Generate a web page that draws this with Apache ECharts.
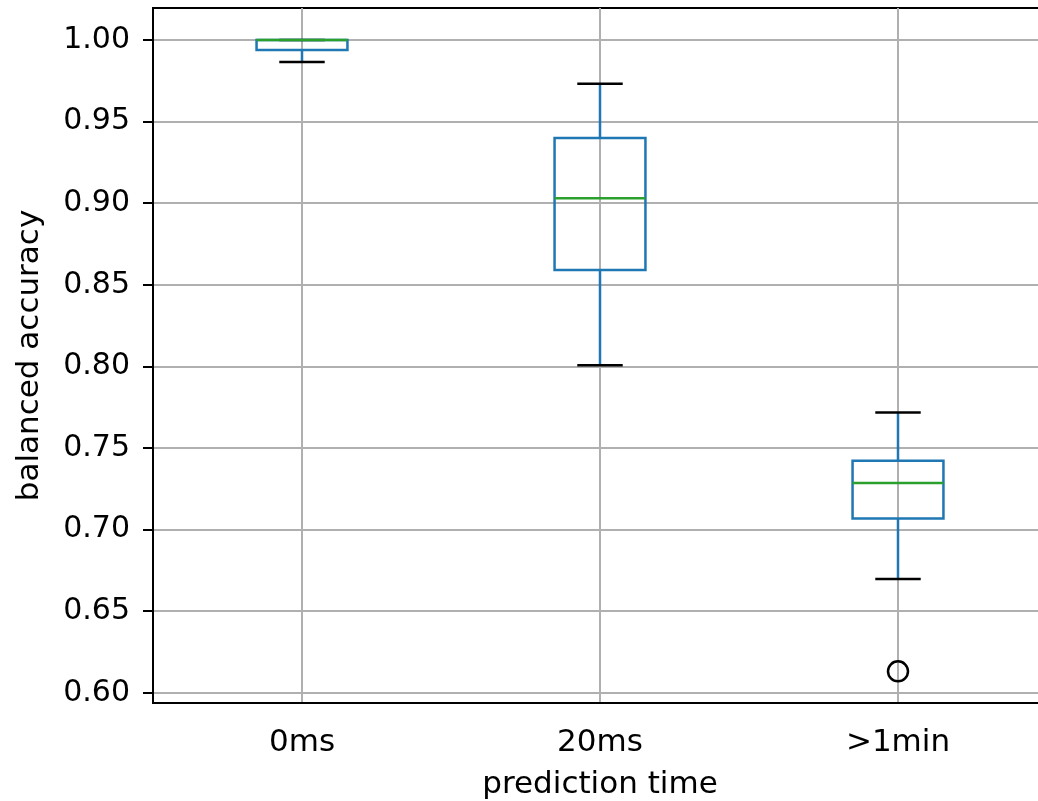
<!DOCTYPE html>
<html>
<head>
<meta charset="utf-8">
<script src="https://cdn.jsdelivr.net/npm/echarts@6/dist/echarts.min.js"></script>
<style>
  html, body { margin: 0; padding: 0; background: #fff; }
  #chart { width: 1038px; height: 801px; }
</style>
</head>
<body>
<div id="chart"></div>
<script>
// box statistics
var categories = ['0ms', '20ms', '>1min'];
var whiskerLow = [0.9865, 0.8006, 0.6697];
var q1 = [0.9939, 0.8590, 0.7068];
var median = [1.0000, 0.9030, 0.7285];
var q3 = [1.0000, 0.9399, 0.7421];
var whiskerHigh = [1.0000, 0.9732, 0.7717];
var outliers = [[2, 0.6131]];
var yTicks = [0.60, 0.65, 0.70, 0.75, 0.80, 0.85, 0.90, 0.95, 1.00];

var boxData = categories.map(function (c, i) {
    return [i, whiskerLow[i], q1[i], median[i], q3[i], whiskerHigh[i]];
});

var font = 'DejaVu Sans';
var blue = '#1f77b4';
var green = '#2ca02c';

function renderBox(params, api) {
    var x = api.value(0);
    var pLow = api.coord([x, api.value(1)]);
    var pQ1 = api.coord([x, api.value(2)]);
    var pMed = api.coord([x, api.value(3)]);
    var pQ3 = api.coord([x, api.value(4)]);
    var pHigh = api.coord([x, api.value(5)]);
    var band = api.size([1, 0])[0];
    var bw = band * 0.305;
    var cw = bw / 2;
    var cx = pMed[0];
    var line = { stroke: blue, lineWidth: 2.5 };
    var cap = { stroke: '#000', lineWidth: 2.5 };
    return {
        type: 'group',
        children: [
            { type: 'line', shape: { x1: cx, y1: pQ1[1], x2: cx, y2: pLow[1] }, style: line },
            { type: 'line', shape: { x1: cx, y1: pQ3[1], x2: cx, y2: pHigh[1] }, style: line },
            { type: 'line', shape: { x1: cx - cw / 2, y1: pLow[1], x2: cx + cw / 2, y2: pLow[1] }, style: cap },
            { type: 'line', shape: { x1: cx - cw / 2, y1: pHigh[1], x2: cx + cw / 2, y2: pHigh[1] }, style: cap },
            { type: 'rect', shape: { x: cx - bw / 2, y: pQ3[1], width: bw, height: pQ1[1] - pQ3[1] }, style: { stroke: blue, fill: null, lineWidth: 2.5 } },
            { type: 'line', shape: { x1: cx - bw / 2, y1: pMed[1], x2: cx + bw / 2, y2: pMed[1] }, style: { stroke: green, lineWidth: 2.4 } }
        ]
    };
}

var chart = echarts.init(document.getElementById('chart'));
var option = {
    animation: false,
    textStyle: { fontFamily: font },
    grid: {
        left: 153, top: 8, width: 894, height: 695,
        outerBoundsMode: 'none',
        containLabel: false,
        show: true, borderColor: '#000', borderWidth: 2
    },
    xAxis: {
        type: 'category',
        data: categories,
        boundaryGap: true,
        name: 'prediction time',
        nameLocation: 'middle',
        nameGap: 66,
        nameTextStyle: { fontSize: 31, color: '#000', fontFamily: font },
        axisLine: { lineStyle: { color: '#000', width: 2 } },
        axisTick: { alignWithLabel: true, length: 10, lineStyle: { color: '#000', width: 2 } },
        axisLabel: { fontSize: 31, color: '#000', margin: 24, fontFamily: font },
        splitLine: { show: true, alignWithLabel: true, lineStyle: { color: '#b0b0b0', width: 2 } }
    },
    yAxis: {
        type: 'value',
        min: 0.5937,
        max: 1.0196,
        name: 'balanced accuracy',
        nameLocation: 'middle',
        nameGap: 108,
        nameTextStyle: { fontSize: 31, color: '#000', fontFamily: font },
        axisLine: { show: true, lineStyle: { color: '#000', width: 2 } },
        axisTick: { show: true, length: 10, customValues: yTicks, lineStyle: { color: '#000', width: 2 } },
        axisLabel: {
            fontSize: 30, color: '#000', margin: 23, fontFamily: font,
            customValues: yTicks,
            formatter: function (v) { return v.toFixed(2); }
        },
        splitLine: { show: true, lineStyle: { color: '#b0b0b0', width: 2 } }
    },
    series: [
        {
            type: 'custom',
            renderItem: renderBox,
            encode: { x: 0, y: [1, 2, 3, 4, 5] },
            data: boxData,
            z: 3
        },
        {
            type: 'scatter',
            data: outliers,
            symbol: 'circle',
            symbolSize: 20,
            itemStyle: { color: 'rgba(0,0,0,0)', borderColor: '#000', borderWidth: 2.5, opacity: 1 },
            z: 4
        }
    ]
};
chart.setOption(option);
</script>
</body>
</html>
